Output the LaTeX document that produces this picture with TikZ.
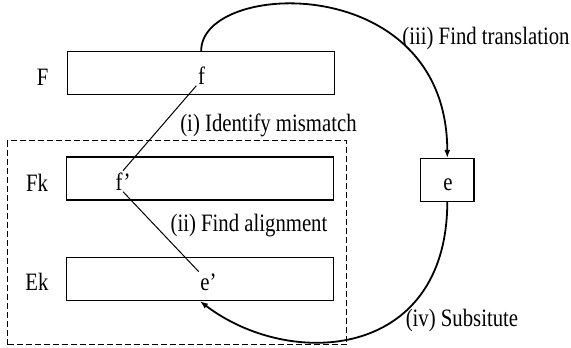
\documentclass[tikz,border=0pt]{standalone}
\usepackage{fontspec}
\setmainfont{Liberation Serif}[FakeStretch=0.83]
\usetikzlibrary{arrows.meta}
\tikzset{
    bar box/.style={draw, line width=1.4pt, minimum width=267pt,
        minimum height=43pt, inner sep=0pt},
    word/.style={font=\fontsize{25}{30}\selectfont, inner sep=1.5pt,
        anchor=base},
    flow arrow/.style={line width=1.8pt, -{Latex[length=8pt,width=6pt]}},
    link line/.style={line width=1pt}
}

\begin{document}
\begin{tikzpicture}[x=1pt, y=-1pt]
    % Init
    \useasboundingbox (0,0) rectangle (571,348);
    % 1. def boxes
    \node[draw, dash pattern=on 6pt off 3pt, line width=1.2pt,
        minimum width=339pt, minimum height=204pt] (K) at (177,242.6) {};
    \node[bar box] (F) at (201.2,73) {};
    \node[bar box] (Fk) at (200,178.5) {};
    \node[bar box] (Ek) at (200,279) {};
    \node[draw, line width=1.4pt, minimum width=53.5pt,
        minimum height=42.7pt] (E) at (447.3,180) {};
    % 2. row names
    \node[word] (nF) at (42.7,85) {F};
    \node[word] (nFk) at (37,191.7) {Fk};
    \node[word] (nEk) at (37,290) {Ek};
    % 3. words in the boxes
    \node[word] (f) at (201.5,84) {f};
    \node[word] (fp) at (123,190) {f’};
    \node[word] (ep) at (208.5,290) {e’};
    \node[word] (e) at (448,190.7) {e};
    % 4. links and steps
    \draw[link line] (f.south west) -- (fp.north);
    \draw[link line] (fp.south) -- (ep.north west);
    \draw[flow arrow] (F.north) .. controls (201,-20) and (447,-30) .. (E.north);
    \draw[flow arrow] (E.south) .. controls (447,360) and (290,370) .. (Ek.south);
    \node[word] (s1) at (268.5,131.5) {(i) Identify mismatch};
    \node[word] (s2) at (249,231.7) {(ii) Find alignment};
    \node[word] (s3) at (486,45) {(iii) Find translation};
    \node[word] (s4) at (462,326.7) {(iv) Subsitute};
\end{tikzpicture}
\end{document}
